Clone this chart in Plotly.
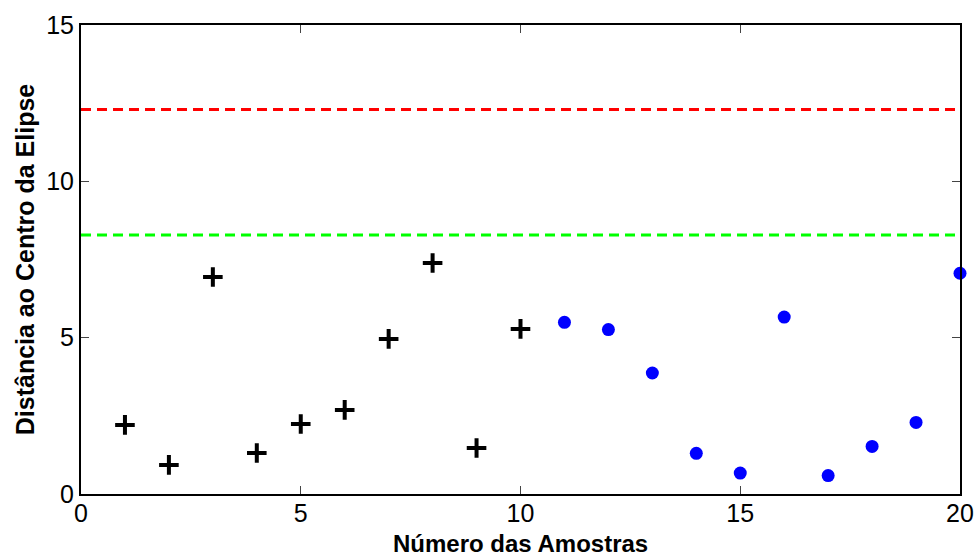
import plotly.graph_objects as go

x_train = [1, 2, 3, 4, 5, 6, 7, 8, 9, 10]
y_train = [2.21, 0.93, 6.94, 1.31, 2.24, 2.69, 4.96, 7.39, 1.47, 5.28]
x_test = [11, 12, 13, 14, 15, 16, 17, 18, 19, 20]
y_test = [5.49, 5.26, 3.87, 1.30, 0.67, 5.66, 0.59, 1.52, 2.29, 7.06]
limit_red = 12.30
limit_green = 8.28
x_span = [0, 20]
x_ticks = [0, 5, 10, 15, 20]
y_ticks = [0, 5, 10, 15]

fig = go.Figure()
fig.add_trace(go.Scatter(x=x_span, y=[limit_red, limit_red], mode="lines",
                         line=dict(color="#ff0000", width=3, dash="10px,6px"), showlegend=False))
fig.add_trace(go.Scatter(x=x_span, y=[limit_green, limit_green], mode="lines",
                         line=dict(color="#00ff00", width=3, dash="10px,6px"), showlegend=False))
fig.add_trace(go.Scatter(x=x_train, y=y_train, mode="markers",
                         marker=dict(symbol="cross-thin", size=14, line=dict(color="black", width=4)),
                         showlegend=False, cliponaxis=False))
fig.add_trace(go.Scatter(x=x_test, y=y_test, mode="markers",
                         marker=dict(symbol="circle", size=13, color="#0000ff"),
                         showlegend=False, cliponaxis=False))

axis_common = dict(showline=True, linecolor="black", linewidth=2, mirror="ticks",
                   ticks="inside", ticklen=8, tickwidth=1, tickcolor="#444",
                   showgrid=False, zeroline=False, automargin=False,
                   tickfont=dict(family="Liberation Sans, Arial", size=25, color="black"))

plot_h = 558 - 25 - 64

fig.update_layout(
    width=978, height=558,
    margin=dict(l=81, r=18, t=25, b=64),
    plot_bgcolor="white", paper_bgcolor="white",
    xaxis=dict(range=[0, 20], tickvals=x_ticks, ticklabelstandoff=-4, **axis_common),
    yaxis=dict(range=[0, 15], tickvals=y_ticks, **axis_common,
               title=dict(text="<b>Distância ao Centro da Elipse</b>", standoff=4,
                          font=dict(family="Liberation Sans, Arial", size=25, color="black"))),
    annotations=[dict(text="<b>Número das Amostras</b>", xref="paper", yref="paper",
                      x=0.5, y=-64 / plot_h, xanchor="center", yanchor="bottom",
                      showarrow=False, borderpad=0,
                      font=dict(family="Liberation Sans, Arial", size=24, color="black"))],
)
fig.write_html("out.html")
